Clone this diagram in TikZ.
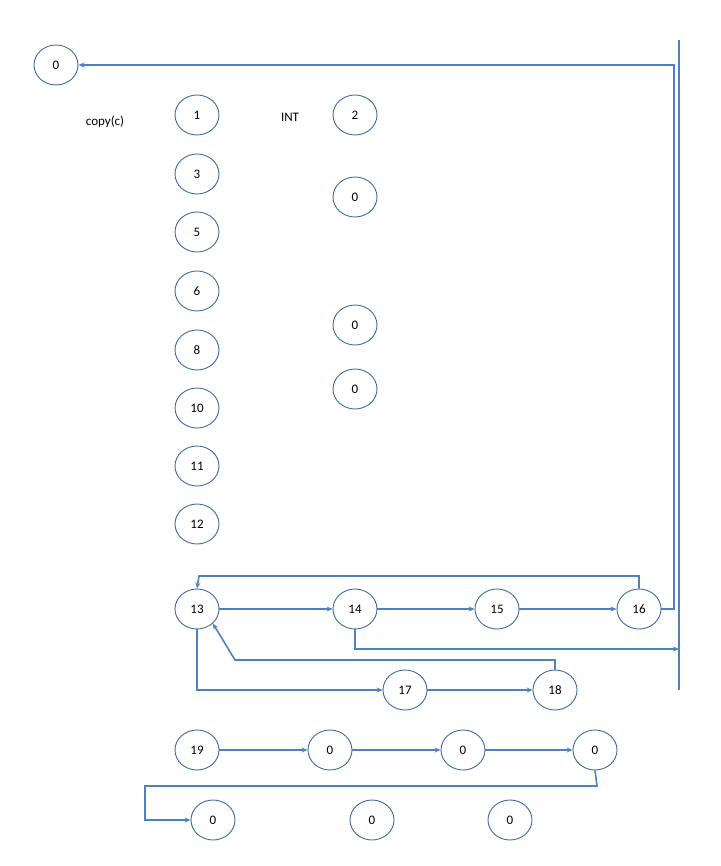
\documentclass[tikz,border=0pt]{standalone}
\usepackage{fontspec}
\setmainfont{Carlito}
\usetikzlibrary{shapes.geometric,arrows.meta}
\definecolor{lineblue}{RGB}{79,129,189}
\definecolor{rimblue}{RGB}{65,105,160}
\tikzset{
  cell/.style={ellipse,draw=rimblue,line width=0.9pt,minimum width=44pt,minimum height=40pt,inner sep=0pt,font=\fontsize{13}{15}\selectfont},
  tag/.style={font=\fontsize{13}{15}\selectfont},
  link/.style={draw=lineblue,line width=1.6pt,-{Stealth[length=6pt,width=5pt]}},
  rail/.style={draw=lineblue,line width=1.6pt}
}
\begin{document}
\begin{tikzpicture}[x=1pt,y=-1pt]
        \useasboundingbox (0,0) rectangle (720,866);
        % first rows
        \node[cell] (z0) at (56,65) {0};
        \node[tag] (cp) at (105,122) {copy(c)};
        \node[cell] (n1) at (197,115) {1};
        \node[tag] (it) at (290,117) {INT};
        \node[cell] (n2) at (355,115) {2};
        \node[cell] (n3) at (197,174) {3};
        \node[cell] (z1) at (355,197) {0};
        \node[cell] (n5) at (197,232) {5};
        \node[cell] (n6) at (197,291) {6};
        \node[cell] (z2) at (355,325) {0};
        \node[cell] (n8) at (197,350) {8};
        \node[cell] (z3) at (355,389) {0};
        \node[cell] (n10) at (197,408) {10};
        \node[cell] (n11) at (197,466) {11};
        \node[cell] (n12) at (197,524) {12};
        % the loop
        \node[cell] (n13) at (197,609) {13};
        \node[cell] (n14) at (355,609) {14};
        \node[cell] (n15) at (497,609) {15};
        \node[cell] (n16) at (639,609) {16};
        \node[cell] (n17) at (405,690) {17};
        \node[cell] (n18) at (555,690) {18};
        % last rows
        \node[cell] (n19) at (197,750) {19};
        \node[cell] (z4) at (330,750) {0};
        \node[cell] (z5) at (463,750) {0};
        \node[cell] (z6) at (595,750) {0};
        \node[cell] (z7) at (213,820) {0};
        \node[cell] (z8) at (372,820) {0};
        \node[cell] (z9) at (510,820) {0};
        \coordinate (top) at (679,40);
        \coordinate (bot) at (679,690);
        \coordinate (hit) at (679,649);
        \draw[rail] (top) -- (bot);
        \draw[link] (n16.east) -- (674,609) -- (674,65) -- (z0.east);
        \draw[link] (n16.north) -- (639,576) -- (199,576) -- (n13.north);
        \draw[link] (n13) -- (n14);
        \draw[link] (n14) -- (n15);
        \draw[link] (n15) -- (n16);
        \draw[link] (n14.south) -- (355,649) -- (hit);
        \draw[link] (n18.north) -- (555,660) -- (235,660) -- (n13.south east);
        \draw[link] (n13.south) -- (197,690) -- (n17.west);
        \draw[link] (n17) -- (n18);
        \draw[link] (n19) -- (z4);
        \draw[link] (z4) -- (z5);
        \draw[link] (z5) -- (z6);
        \draw[link] (z6.south) -- (597,786) -- (145,786) -- (145,820) -- (z7.west);
      \end{tikzpicture}
\end{document}
